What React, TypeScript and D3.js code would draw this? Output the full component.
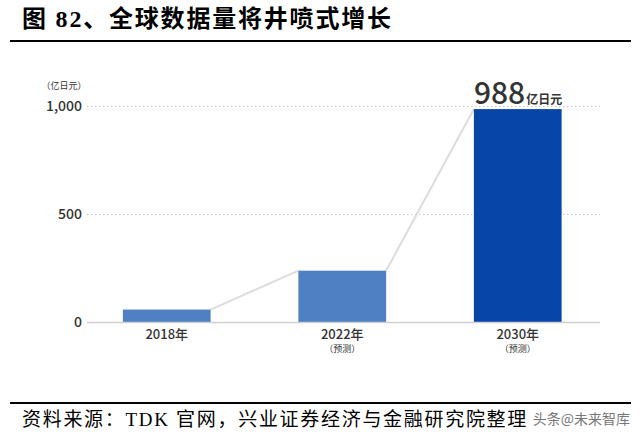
import * as d3 from 'd3';
import React from 'react';

const years = ['2018年', '2022年', '2030年'];
const notes = ['', '（预测）', '（预测）'];
const values = [60, 240, 988];
const yTicks = [0, 500, 1000];
const unitLabel = '（亿日元）';
const highlight = { value: '988', unit: '亿日元' };
const title = '图 82、全球数据量将井喷式增长';
const source = '资料来源：TDK 官网，兴业证券经济与金融研究院整理';
const watermark = '头条@未来智库';

const W = 640;
const H = 435;
const sans = '"Noto Sans CJK SC", "Noto Sans", sans-serif';
const serif = '"Liberation Serif", "Noto Sans CJK SC", serif';

export default function App() {
  const x = d3.scaleBand<string>().domain(years).range([79, 605.5]).paddingInner(0.5).paddingOuter(0.25);
  const y = d3.scaleLinear().domain([0, 1000]).range([322.5, 106.5]);
  const fmt = d3.format(',');
  const bw = x.bandwidth();

  // connectors: top-right of one bar to top-left of the next
  const links = years.slice(1).map((yr, i) => ({
    x1: (x(years[i]) as number) + bw,
    y1: y(values[i]),
    x2: x(yr) as number,
    y2: y(values[i + 1]),
  }));

  const last = years.length - 1;

  return (
    <div style={{ position: 'absolute', left: 0, top: 0 }}>
      <svg width={W} height={H} style={{ display: 'block', background: '#fff' }}>
        <text x={22} y={27} fontFamily={serif} fontWeight={700} fontSize={24} letterSpacing={1.8} fill="#000">
          {title}
        </text>
        <line x1={10} x2={631} y1={41} y2={41} stroke="#000" strokeWidth={2} />

        {/* grid */}
        {yTicks.map(t => (
          <g key={t}>
            {t > 0 && (
              <line x1={87} x2={600} y1={y(t)} y2={y(t)} stroke="#c8c8c8" strokeWidth={1.2} strokeDasharray="1.5 2.5" />
            )}
            <text x={82} y={y(t)} dy="0.35em" textAnchor="end" fontFamily={sans} fontSize={14} fontWeight={500} fill="#333">
              {fmt(t)}
            </text>
          </g>
        ))}
        <text x={64} y={89} textAnchor="middle" fontFamily={sans} fontSize={9} fill="#333">
          {unitLabel}
        </text>

        {links.map((l, i) => (
          <line key={i} {...l} stroke="#dcdcdc" strokeWidth={2} />
        ))}

        {years.map((yr, i) => (
          <rect
            key={yr}
            x={x(yr)}
            y={y(values[i])}
            width={bw}
            height={y(0) - y(values[i])}
            fill={i === last ? '#0745a8' : '#4f80c4'}
          />
        ))}

        <line x1={87} x2={600} y1={y(0)} y2={y(0)} stroke="#cfcfcf" strokeWidth={1.5} />

        {years.map((yr, i) => {
          const cx = (x(yr) as number) + bw / 2;
          return (
            <g key={yr}>
              <text x={cx} y={339} textAnchor="middle" fontFamily={sans} fontSize={13} fontWeight={500} fill="#333">
                {yr}
              </text>
              {notes[i] && (
                <text x={cx} y={352} textAnchor="middle" fontFamily={sans} fontSize={9} fill="#333">
                  {notes[i]}
                </text>
              )}
            </g>
          );
        })}

        <text x={x(years[last]) as number} y={y(values[last]) - 5} fontFamily={sans} fill="#333">
          <tspan fontSize={30} fontWeight={500}>{highlight.value}</tspan>
          <tspan fontSize={12} fontWeight={700} dx={1}>{highlight.unit}</tspan>
        </text>

        <line x1={10} x2={631} y1={403} y2={403} stroke="#000" strokeWidth={2} />
        <text x={22} y={426} fontFamily={serif} fontSize={19} letterSpacing={1.7} fill="#000">
          {source}
        </text>
        <text
          x={630}
          y={424}
          textAnchor="end"
          fontFamily={sans}
          fontSize={14}
          fill="#777"
          stroke="#fff"
          strokeWidth={2}
          paintOrder="stroke"
        >
          {watermark}
        </text>
      </svg>
    </div>
  );
}
